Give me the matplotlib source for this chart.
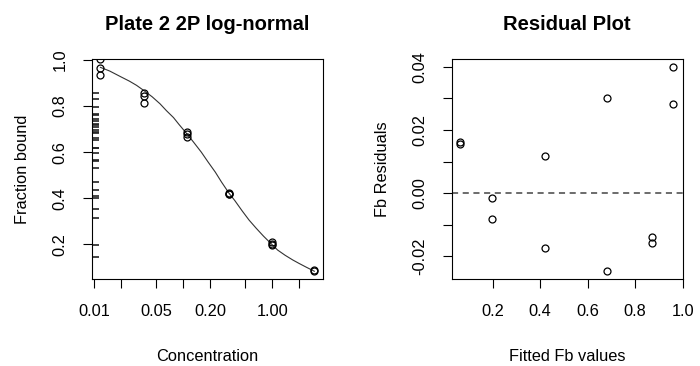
import matplotlib.pyplot as plt

plt.rcParams['font.family'] = ['Liberation Sans', 'DejaVu Sans']

# left panel: observed fraction bound per concentration (3 replicates)
conc = [0.0118, 0.0118, 0.0118, 0.0365, 0.0365, 0.0365, 0.11, 0.11, 0.11,
        0.328, 0.328, 0.328, 1.0, 1.0, 1.0, 2.97, 2.97]
frac_bound = [1.003, 0.967, 0.933, 0.857, 0.843, 0.814, 0.688, 0.680, 0.664,
              0.422, 0.418, 0.420, 0.208, 0.198, 0.201, 0.088, 0.086]

# fitted log-normal curve
curve_x = [0.0118, 0.015, 0.02, 0.025, 0.03, 0.037, 0.045, 0.055, 0.065,
           0.078, 0.09, 0.11, 0.13, 0.16, 0.19, 0.23, 0.27, 0.33, 0.38,
           0.46, 0.55, 0.66, 0.8, 1.0, 1.15, 1.4, 1.7, 2.0, 2.4, 2.97]
curve_y = [0.968, 0.952, 0.927, 0.908, 0.89, 0.865, 0.84, 0.81, 0.78,
           0.75, 0.72, 0.68, 0.645, 0.60, 0.558, 0.513, 0.47, 0.42, 0.39,
           0.345, 0.305, 0.27, 0.235, 0.198, 0.175, 0.152, 0.132, 0.117,
           0.101, 0.083]

# rug marks along the left axis
rug_y = [0.858, 0.829, 0.794, 0.765, 0.761, 0.742, 0.736, 0.720, 0.717, 0.707,
         0.696, 0.688, 0.681, 0.660, 0.652, 0.620, 0.616, 0.597, 0.565, 0.561,
         0.533, 0.471, 0.435, 0.409, 0.403, 0.355, 0.316, 0.196, 0.145]

x_ticks = [0.01, 0.02, 0.05, 0.1, 0.2, 0.5, 1, 2]
x_tick_labels = ["0.01", "", "0.05", "", "0.20", "", "1.00", ""]

# right panel: residuals vs fitted
fitted = [0.0623, 0.0623, 0.196, 0.196, 0.419, 0.419, 0.681, 0.681,
          0.869, 0.869, 0.959, 0.959]
resid = [0.0163, 0.0155, -0.0017, -0.0083, 0.0119, -0.0173, 0.0301, -0.0247,
         -0.0139, -0.0157, 0.0398, 0.0281]

res_y_ticks = [-0.02, -0.01, 0.0, 0.01, 0.02, 0.03, 0.04]
res_y_labels = ["-0.02", "", "0.00", "", "0.02", "", "0.04"]

fig = plt.figure(figsize=(7, 3.66), dpi=100)
ax1 = fig.add_axes([0.131, 0.2369, 0.3304, 0.6011])
ax2 = fig.add_axes([0.6453, 0.2369, 0.33, 0.6011])

fs = 11.8
tick_kw = dict(direction='out', length=6.5, width=0.8, labelsize=fs, pad=11)

# --- left plot
ax1.plot(curve_x, curve_y, color='#333333', lw=0.8)
ax1.plot(conc, frac_bound, 'o', mfc='none', mec='black', ms=5, mew=0.9)
ax1.plot([0.02] * len(rug_y), rug_y, '_', color='#222222', ms=3.8, mew=1.2,
         transform=ax1.get_yaxis_transform())
ax1.set_xscale('log')
ax1.set_xlim(10 ** -2.026, 10 ** 0.57)
ax1.set_ylim(0.048, 1.003)
ax1.set_xticks(x_ticks)
ax1.set_xticklabels(x_tick_labels)
ax1.minorticks_off()
ax1.set_yticks([0.2, 0.4, 0.6, 0.8, 1.0])
ax1.set_yticklabels(["0.2", "0.4", "0.6", "0.8", "1.0"], rotation=90, va='center')
ax1.tick_params(**tick_kw)
ax1.set_xlabel("Concentration", fontsize=fs, labelpad=22)
ax1.set_ylabel("Fraction bound", fontsize=fs, labelpad=16)
ax1.set_title("Plate 2 2P log-normal", fontsize=14.5, fontweight='bold', pad=21)

# --- right plot
ax2.plot(fitted, resid, 'o', mfc='none', mec='black', ms=5, mew=0.9)
ax2.axhline(0, color='#444444', lw=1.1, ls=(0, (4, 3)))
ax2.set_xlim(0.0274, 1.0)
ax2.set_ylim(-0.0273, 0.0424)
ax2.set_xticks([0.2, 0.4, 0.6, 0.8, 1.0])
ax2.set_xticklabels(["0.2", "0.4", "0.6", "0.8", "1.0"])
ax2.set_yticks(res_y_ticks)
ax2.set_yticklabels(res_y_labels, rotation=90, va='center')
ax2.tick_params(**tick_kw)
ax2.set_xlabel("Fitted Fb values", fontsize=fs, labelpad=22)
ax2.set_ylabel("Fb Residuals", fontsize=fs, labelpad=16)
ax2.set_title("Residual Plot", fontsize=14.5, fontweight='bold', pad=21)

for ax in (ax1, ax2):
    for sp in ax.spines.values():
        sp.set_linewidth(0.8)
    ax.xaxis.get_ticklabels()[-1].set_clip_on(False)

fig.savefig("out.png", dpi=100)
